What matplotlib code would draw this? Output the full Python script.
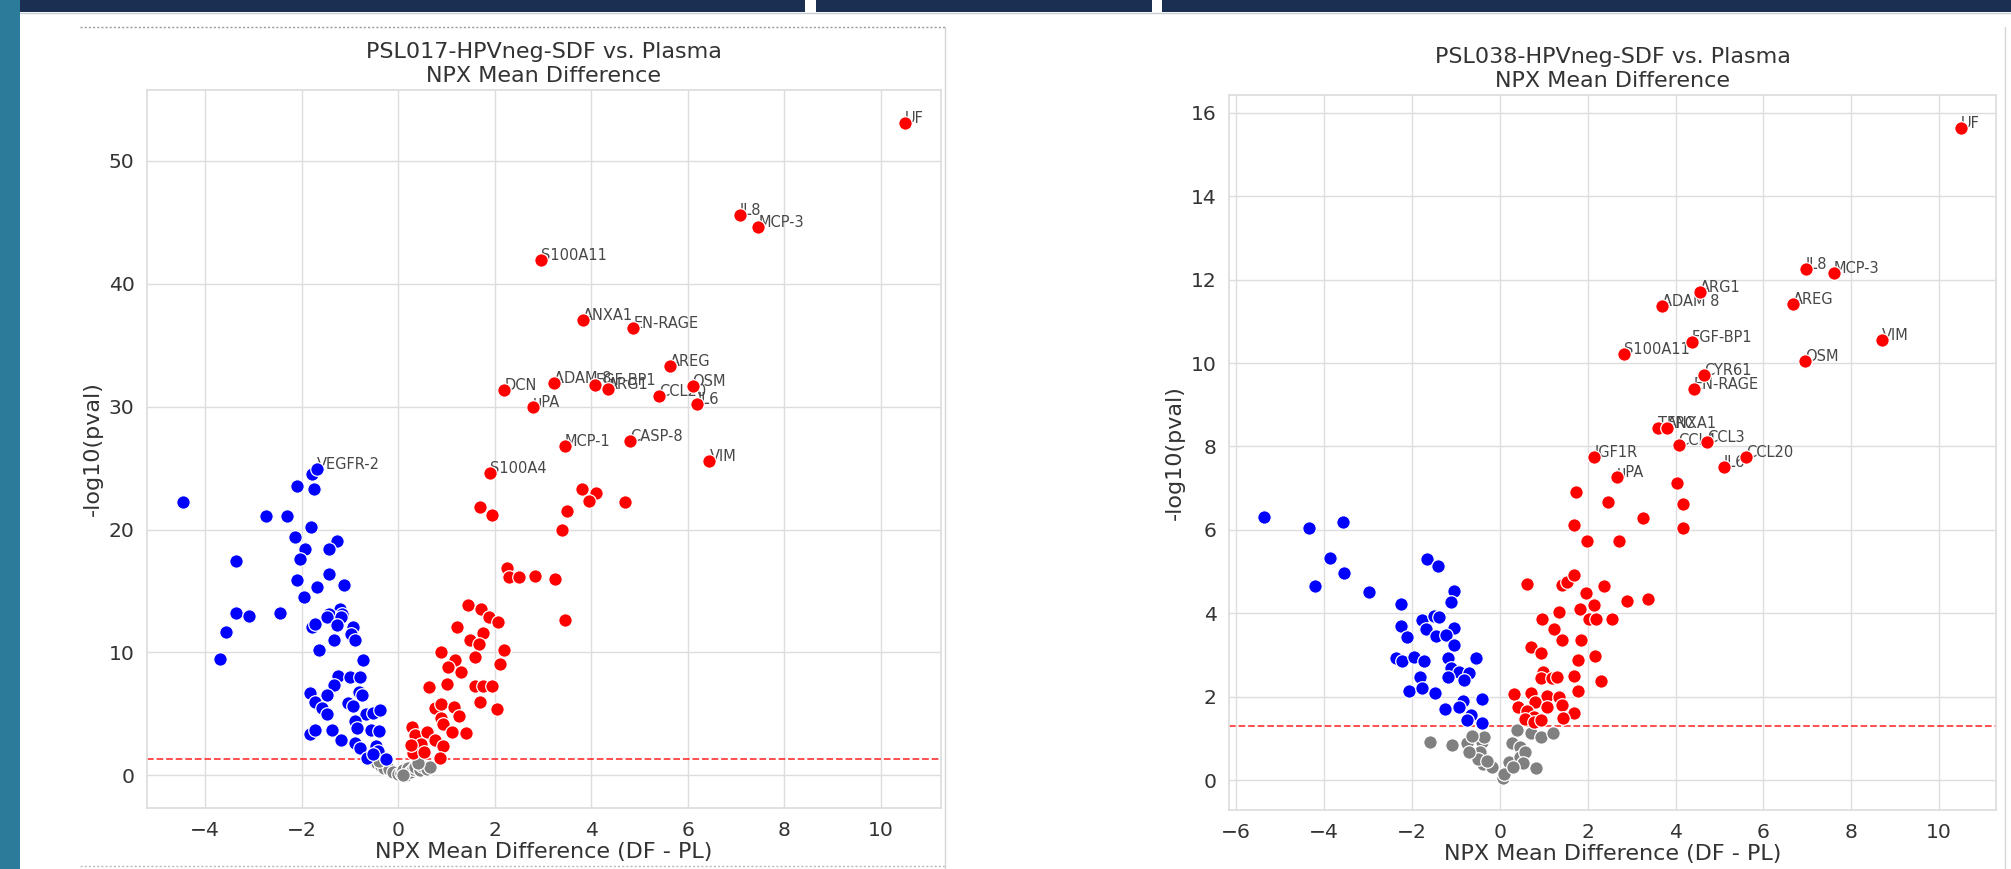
import numpy as np
import matplotlib
matplotlib.use("Agg")
import matplotlib.pyplot as plt
from matplotlib.patches import Rectangle
from matplotlib.lines import Line2D
import seaborn as sns

# ---- PSL017 (left) ----
l_lab_names = ["UF", "IL8", "MCP-3", "S100A11", "ANXA1", "EN-RAGE", "AREG", "OSM", "CCL20",
               "IL6", "ADAM 8", "FGF-BP1", "ARG1", "DCN", "uPA", "MCP-1", "CASP-8", "VIM", "S100A4"]
l_lab_x = [10.5, 7.08, 7.46, 2.96, 3.82, 4.87, 5.63, 6.1, 5.4, 6.2, 3.22, 4.08, 4.35, 2.2, 2.79, 3.45, 4.8, 6.45, 1.9]
l_lab_y = [53.1, 45.6, 44.6, 41.9, 37.06, 36.4, 33.3, 31.7, 30.9, 30.2, 31.9, 31.75, 31.45, 31.35, 30.0, 26.8, 27.2, 25.6, 24.6]
l_blue_lab = ["VEGFR-2"]
l_blue_lab_x = [-1.68]
l_blue_lab_y = [24.96]

l_red_x = [3.8, 4.1, 3.95, 4.7, 3.5, 3.4, 1.7, 1.95, 2.25, 2.29, 2.5, 2.84, 3.24, 3.45, 1.44, 1.72, 1.89, 2.06,
           1.21, 1.76, 1.49, 1.67, 2.2, 0.88, 1.18, 1.58, 1.04, 2.11, 1.3, 0.63, 1.0, 1.58, 1.76, 1.95, 1.69, 2.04,
           0.77, 0.88, 1.16, 1.26, 0.88, 0.93, 1.12, 1.4, 0.29, 0.35, 0.6, 0.77, 0.47, 0.93, 0.3, 0.53, 0.86, 0.27]
l_red_y = [23.3, 23.0, 22.3, 22.2, 21.5, 20.0, 21.8, 21.2, 16.9, 16.1, 16.1, 16.2, 16.0, 12.6, 13.85, 13.5, 12.9, 12.5,
           12.1, 11.6, 11.0, 10.7, 10.2, 10.0, 9.35, 9.6, 8.8, 9.05, 8.4, 7.2, 7.4, 7.3, 7.3, 7.3, 6.0, 5.4,
           5.5, 5.8, 5.6, 4.8, 4.7, 4.2, 3.5, 3.45, 3.95, 3.3, 3.5, 2.9, 2.55, 2.4, 1.85, 1.9, 1.4, 2.5]

l_blue_x = [-4.46, -1.79, -2.1, -1.75, -2.74, -2.3, -1.8, -2.15, -1.28, -1.93, -1.44, -2.04, -3.37, -1.44, -2.1,
            -1.68, -1.13, -1.96, -3.37, -3.1, -2.46, -1.21, -1.44, -1.16, -3.58, -3.69, -1.78, -1.73, -1.47, -1.18,
            -1.27, -0.94, -0.99, -0.9, -1.64, -1.34, -0.73, -1.25, -1.01, -0.79, -1.34, -1.84, -1.73, -1.48, -0.82,
            -0.75, -1.04, -0.94, -1.59, -1.47, -0.67, -0.53, -0.38, -0.9, -0.85, -1.38, -1.82, -1.73, -0.57, -0.39,
            -1.19, -0.9, -0.79, -0.46, -0.42, -0.64, -0.25, -0.53]
l_blue_y = [22.2, 24.55, 23.5, 23.3, 21.1, 21.1, 20.2, 19.4, 19.1, 18.4, 18.4, 17.6, 17.4, 16.4, 15.9,
            15.3, 15.5, 14.5, 13.2, 13.0, 13.2, 13.5, 13.1, 13.1, 11.7, 9.5, 12.1, 12.3, 12.9, 12.9,
            12.2, 12.1, 11.5, 11.0, 10.2, 11.0, 9.4, 8.1, 8.0, 8.0, 7.35, 6.7, 6.0, 6.5, 6.8,
            6.5, 5.9, 5.65, 5.5, 5.0, 5.0, 5.05, 5.3, 4.4, 3.85, 3.7, 3.4, 3.65, 3.7, 3.6,
            2.9, 2.6, 2.2, 2.35, 1.95, 1.4, 1.3, 1.7]

l_gray_x = [-0.45, -0.35, -0.3, -0.2, -0.1, 0.0, 0.05, 0.1, 0.15, 0.2, 0.25, 0.3, 0.35, 0.45, 0.5, 0.6, 0.65, -0.4, 0.4, 0.1]
l_gray_y = [1.0, 0.8, 0.6, 0.5, 0.3, 0.1, 0.2, 0.4, 0.05, 0.6, 0.3, 0.5, 0.7, 0.4, 0.8, 0.5, 0.7, 1.2, 1.0, 0.0]

# ---- PSL038 (right) ----
r_lab_names = ["UF", "IL8", "MCP-3", "ARG1", "ADAM 8", "AREG", "FGF-BP1", "S100A11", "VIM", "OSM", "CYR61",
               "EN-RAGE", "TFRC", "ANXA1", "CCL4", "CCL3", "IL6", "CCL20", "IGF1R", "uPA"]
r_lab_x = [10.5, 6.97, 7.6, 4.56, 3.7, 6.67, 4.37, 2.83, 8.7, 6.95, 4.65, 4.41, 3.6, 3.8, 4.07, 4.72, 5.1, 5.6, 2.15, 2.67]
r_lab_y = [15.65, 12.25, 12.15, 11.71, 11.37, 11.41, 10.5, 10.21, 10.55, 10.05, 9.71, 9.37, 8.45, 8.45, 8.03, 8.1, 7.5, 7.75, 7.75, 7.27]

r_red_x = [1.74, 2.46, 1.69, 3.25, 1.99, 2.71, 4.03, 4.18, 4.18, 0.61, 1.41, 1.54, 1.69, 2.38, 1.96, 2.9, 3.38,
           2.14, 1.34, 1.82, 0.96, 2.02, 2.2, 2.55, 1.23, 1.41, 1.84, 0.71, 0.93, 2.17, 1.79, 0.98, 0.93, 1.18,
           1.31, 1.69, 2.3, 1.79, 0.32, 0.71, 1.08, 1.35, 0.81, 0.42, 1.08, 1.41, 0.61, 1.69, 0.78, 0.58, 1.43,
           0.78, 0.93]
r_red_y = [6.9, 6.67, 6.12, 6.29, 5.74, 5.74, 7.13, 6.62, 6.05, 4.7, 4.67, 4.75, 4.92, 4.65, 4.48, 4.3, 4.33,
           4.2, 4.04, 4.09, 3.86, 3.86, 3.86, 3.85, 3.61, 3.36, 3.36, 3.18, 3.04, 2.97, 2.89, 2.6, 2.45, 2.45,
           2.46, 2.49, 2.38, 2.14, 2.06, 2.08, 2.01, 2.0, 1.88, 1.76, 1.76, 1.8, 1.66, 1.61, 1.52, 1.46, 1.48,
           1.38, 1.45]

r_blue_x = [-5.37, -4.35, -3.58, -3.87, -3.54, -4.2, -2.98, -1.66, -1.41, -1.05, -1.1, -2.24, -1.77, -1.5, -1.38,
            -1.68, -1.04, -2.24, -2.12, -1.45, -1.22, -1.04, -2.36, -2.23, -1.96, -1.72, -1.18, -0.54, -1.1, -0.94,
            -0.69, -0.81, -1.18, -1.82, -2.06, -1.76, -1.48, -0.84, -0.41, -1.25, -0.92, -0.71, -0.65, -0.41, -0.74]
r_blue_y = [6.31, 6.05, 6.2, 5.32, 4.97, 4.65, 4.5, 5.29, 5.14, 4.54, 4.26, 4.22, 3.84, 3.94, 3.9,
            3.61, 3.64, 3.69, 3.44, 3.45, 3.48, 3.24, 2.92, 2.86, 2.94, 2.86, 2.92, 2.92, 2.68, 2.6,
            2.56, 2.41, 2.46, 2.46, 2.13, 2.2, 2.08, 1.9, 1.94, 1.7, 1.76, 1.52, 1.56, 1.36, 1.44]

r_gray_x = [-1.58, -1.08, -0.74, -0.41, -0.36, -0.64, -0.44, -0.38, -0.5, -0.18, 0.07, 0.22, 0.28, 0.45, 0.46,
            0.58, 0.53, 0.71, 0.83, 0.93, 1.21, 0.4, 0.1, 0.3, -0.7, -0.3]
r_gray_y = [0.92, 0.84, 0.88, 0.9, 1.04, 1.05, 0.66, 0.39, 0.5, 0.3, 0.06, 0.44, 0.88, 0.78, 0.56,
            0.66, 0.4, 1.12, 0.28, 1.04, 1.13, 1.2, 0.15, 0.3, 0.68, 0.45]

threshold = -np.log10(0.05)

sns.set_theme(style="whitegrid")
plt.rcParams['font.family'] = ['DejaVu Sans']

W, H = 2011, 869
fig = plt.figure(figsize=(W / 100, H / 100), dpi=100)
fig.patch.set_facecolor("white")


def px_rect(x0, y0, x1, y1, color):
    fig.add_artist(Rectangle((x0 / W, 1 - y1 / H), (x1 - x0) / W, (y1 - y0) / H,
                             transform=fig.transFigure, facecolor=color, edgecolor="none", zorder=0))


def px_line(xs, ys, **kw):
    fig.add_artist(Line2D([x / W for x in xs], [1 - y / H for y in ys], transform=fig.transFigure, **kw))


# slide decoration
px_rect(0, 0, 20, H, "#2c7b9b")
for a, b in [(20, 805), (816, 1152), (1162, W)]:
    px_rect(a, 0, b, 12, "#1b2f53")
px_line([20, W], [13, 13], color="#c8ccd4", lw=1)
px_line([80, 945], [27, 27], color="#9a9a9a", lw=1, ls=(0, (1.5, 1.5)))
px_line([80, 945], [866, 866], color="#bbbbbb", lw=1, ls=(0, (1.5, 1.5)))
px_line([945, 945], [27, H], color="#d6d6d6", lw=1)
px_line([2005, 2005], [27, H], color="#d6d6d6", lw=1)


def volcano(ax, title, rx, ry, bx, by, gx, gy, lx, ly, lnames, blx=(), bly=(), blnames=()):
    kw = dict(s=95, edgecolors="white", linewidths=0.9, zorder=3)
    ax.scatter(gx, gy, c="grey", **kw)
    ax.scatter(bx + list(blx), by + list(bly), c="blue", **kw)
    ax.scatter(rx + lx, ry + ly, c="red", **kw)
    # labels sit under the dots, as in the original
    for n, x, y in zip(lnames, lx, ly):
        ax.text(x, y, n, fontsize=10.5, color="#474747", zorder=2.5)
    for n, x, y in zip(blnames, blx, bly):
        ax.text(x, y, n, fontsize=10.5, color="#474747", zorder=2.5)
    ax.axhline(threshold, color="red", ls="--", lw=1.3, alpha=0.75, zorder=2)
    ax.set_title(title, fontsize=16, color="#333333", pad=6)
    ax.set_xlabel("NPX Mean Difference (DF - PL)", fontsize=16, color="#333333", labelpad=2)
    ax.set_ylabel("-log10(pval)", fontsize=16, color="#333333")
    ax.tick_params(labelsize=14.6, colors="#333333", pad=3)
    ax.grid(True, color="#dddddd")
    for sp in ax.spines.values():
        sp.set_color("#dddddd")


ax1 = fig.add_axes([147 / W, 1 - 808 / H, 794 / W, 718 / H])
volcano(ax1, "PSL017-HPVneg-SDF vs. Plasma\nNPX Mean Difference",
        l_red_x, l_red_y, l_blue_x, l_blue_y, l_gray_x, l_gray_y,
        l_lab_x, l_lab_y, l_lab_names, l_blue_lab_x, l_blue_lab_y, l_blue_lab)

ax2 = fig.add_axes([1229 / W, 1 - 810 / H, 767 / W, 715 / H])
volcano(ax2, "PSL038-HPVneg-SDF vs. Plasma\nNPX Mean Difference",
        r_red_x, r_red_y, r_blue_x, r_blue_y, r_gray_x, r_gray_y,
        r_lab_x, r_lab_y, r_lab_names)

fig.savefig("out.png", dpi=100)
